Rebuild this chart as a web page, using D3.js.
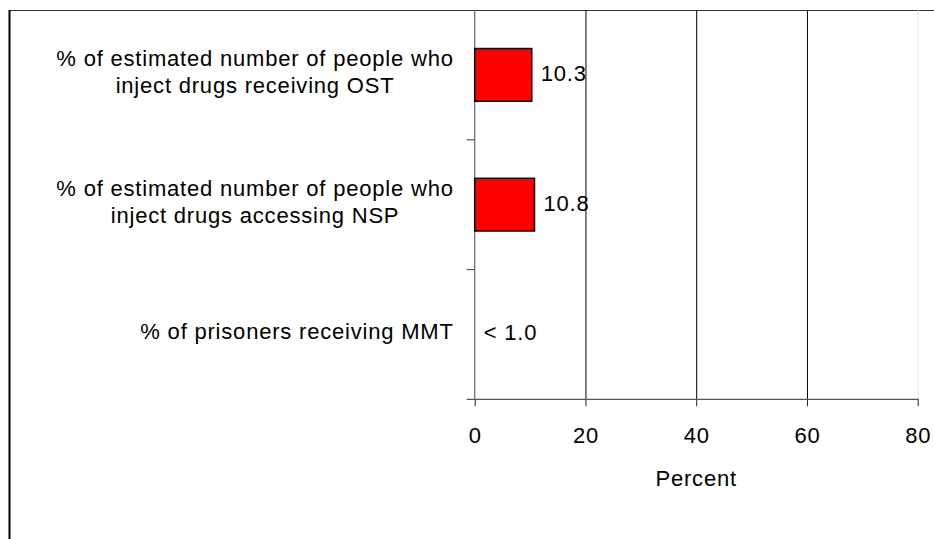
<!DOCTYPE html>
<html>
<head>
<meta charset="utf-8">
<script src="https://cdn.jsdelivr.net/npm/d3@7"></script>
<style>
  body { margin: 0; background: #fff; }
  svg { display: block; }
  text { font-family: "Liberation Sans", Arial, sans-serif; font-size: 22px; letter-spacing: 0.8px; fill: #000; }
</style>
</head>
<body>
<svg id="chart" width="934" height="539"></svg>
<script>
// data
const categories = ["ost", "nsp", "mmt"];
const categoryLines = [
    ["% of estimated number of people who", "inject drugs receiving OST"],
    ["% of estimated number of people who", "inject drugs accessing NSP"],
    ["% of prisoners receiving MMT"]
];
const values = [10.3, 10.8, 0];
const valueLabels = ["10.3", "10.8", "< 1.0"];
const xTicks = [0, 20, 40, 60, 80];

// margins & dimensions
const margin = { top: 10, left: 474.7 };
const width = 443;
const height = 389.3;

const svg = d3.select("#chart");

// outer frame (right/bottom edges run off the picture)
svg.append("line")
    .attr("x1", 9).attr("x2", 934).attr("y1", 10.5).attr("y2", 10.5)
    .attr("stroke", "#333").attr("stroke-width", 1.2);
svg.append("line")
    .attr("x1", 9.5).attr("x2", 9.5).attr("y1", 10).attr("y2", 539)
    .attr("stroke", "#000").attr("stroke-width", 2);

const g = svg.append("g")
    .attr("transform", `translate(${margin.left},${margin.top})`);

// scales
const x = d3.scaleLinear().domain([0, 80]).range([0, width]);
const y = d3.scaleBand().domain(categories).range([0, height]).padding(0);
const barH = y.bandwidth() * 0.406;

// gridlines
g.selectAll(".grid")
    .data(xTicks.filter(d => d > 0))
    .join("line")
    .attr("class", "grid")
    .attr("x1", d => x(d) + 0.5).attr("x2", d => x(d) + 0.5)
    .attr("y1", 0).attr("y2", height)
    .attr("stroke", d => d === 80 ? "#e8e8e8" : "#000")
    .attr("stroke-width", 1);

// x axis
const xAxis = g.append("g")
    .attr("transform", `translate(0,${height})`)
    .call(d3.axisBottom(x).tickValues(xTicks).tickSize(7).tickPadding(20).tickSizeOuter(0));
xAxis.select(".domain").remove();
xAxis.append("line")
    .attr("x1", -8).attr("x2", width + 1).attr("y1", 0).attr("y2", 0)
    .attr("stroke", "#555").attr("stroke-width", 1.2);
xAxis.selectAll(".tick line").attr("stroke", "#222");
xAxis.selectAll(".tick text").attr("fill", "#000").style("font-size", "22px")
    .attr("dy", "0.75em");

// y axis: tick marks at the band boundaries
g.append("line")
    .attr("x1", 0).attr("x2", 0).attr("y1", 0).attr("y2", height)
    .attr("stroke", "#666").attr("stroke-width", 1.2);
g.selectAll(".ytick")
    .data(categories.slice(1))
    .join("line")
    .attr("class", "ytick")
    .attr("x1", -8).attr("x2", 0)
    .attr("y1", d => y(d)).attr("y2", d => y(d))
    .attr("stroke", "#555").attr("stroke-width", 1.2);

// category labels: block right-aligned, lines centred within the block
const lineH = 27;
categories.forEach((c, i) => {
    const lines = categoryLines[i];
    const cy = y(c) + y.bandwidth() / 2;
    const block = g.append("g");
    const texts = block.selectAll("text")
        .data(lines)
        .join("text")
        .attr("text-anchor", "middle")
        .attr("y", (d, j) => cy + (j - (lines.length - 1) / 2) * lineH + 4.5)
        .text(d => d);
    const maxW = d3.max(texts.nodes(), n => n.getComputedTextLength());
    texts.attr("x", -21 - maxW / 2);
});

// bars
g.selectAll(".bar")
    .data(categories)
    .join("rect")
    .attr("class", "bar")
    .attr("x", x(0))
    .attr("y", d => y(d) + (y.bandwidth() - barH) / 2)
    .attr("width", (d, i) => x(values[i]) - x(0))
    .attr("height", barH)
    .attr("fill", "#ff0000")
    .attr("stroke", "#000")
    .attr("stroke-width", 1.5)
    .style("display", (d, i) => values[i] > 0 ? null : "none");

// value labels
g.selectAll(".val")
    .data(categories)
    .join("text")
    .attr("class", "val")
    .attr("x", (d, i) => x(values[i]) + 9)
    .attr("y", d => y(d) + y.bandwidth() / 2 + 6)
    .text((d, i) => valueLabels[i]);

// axis title
g.append("text")
    .attr("x", width / 2)
    .attr("y", height + 87)
    .attr("text-anchor", "middle")
    .text("Percent");
</script>
</body>
</html>
